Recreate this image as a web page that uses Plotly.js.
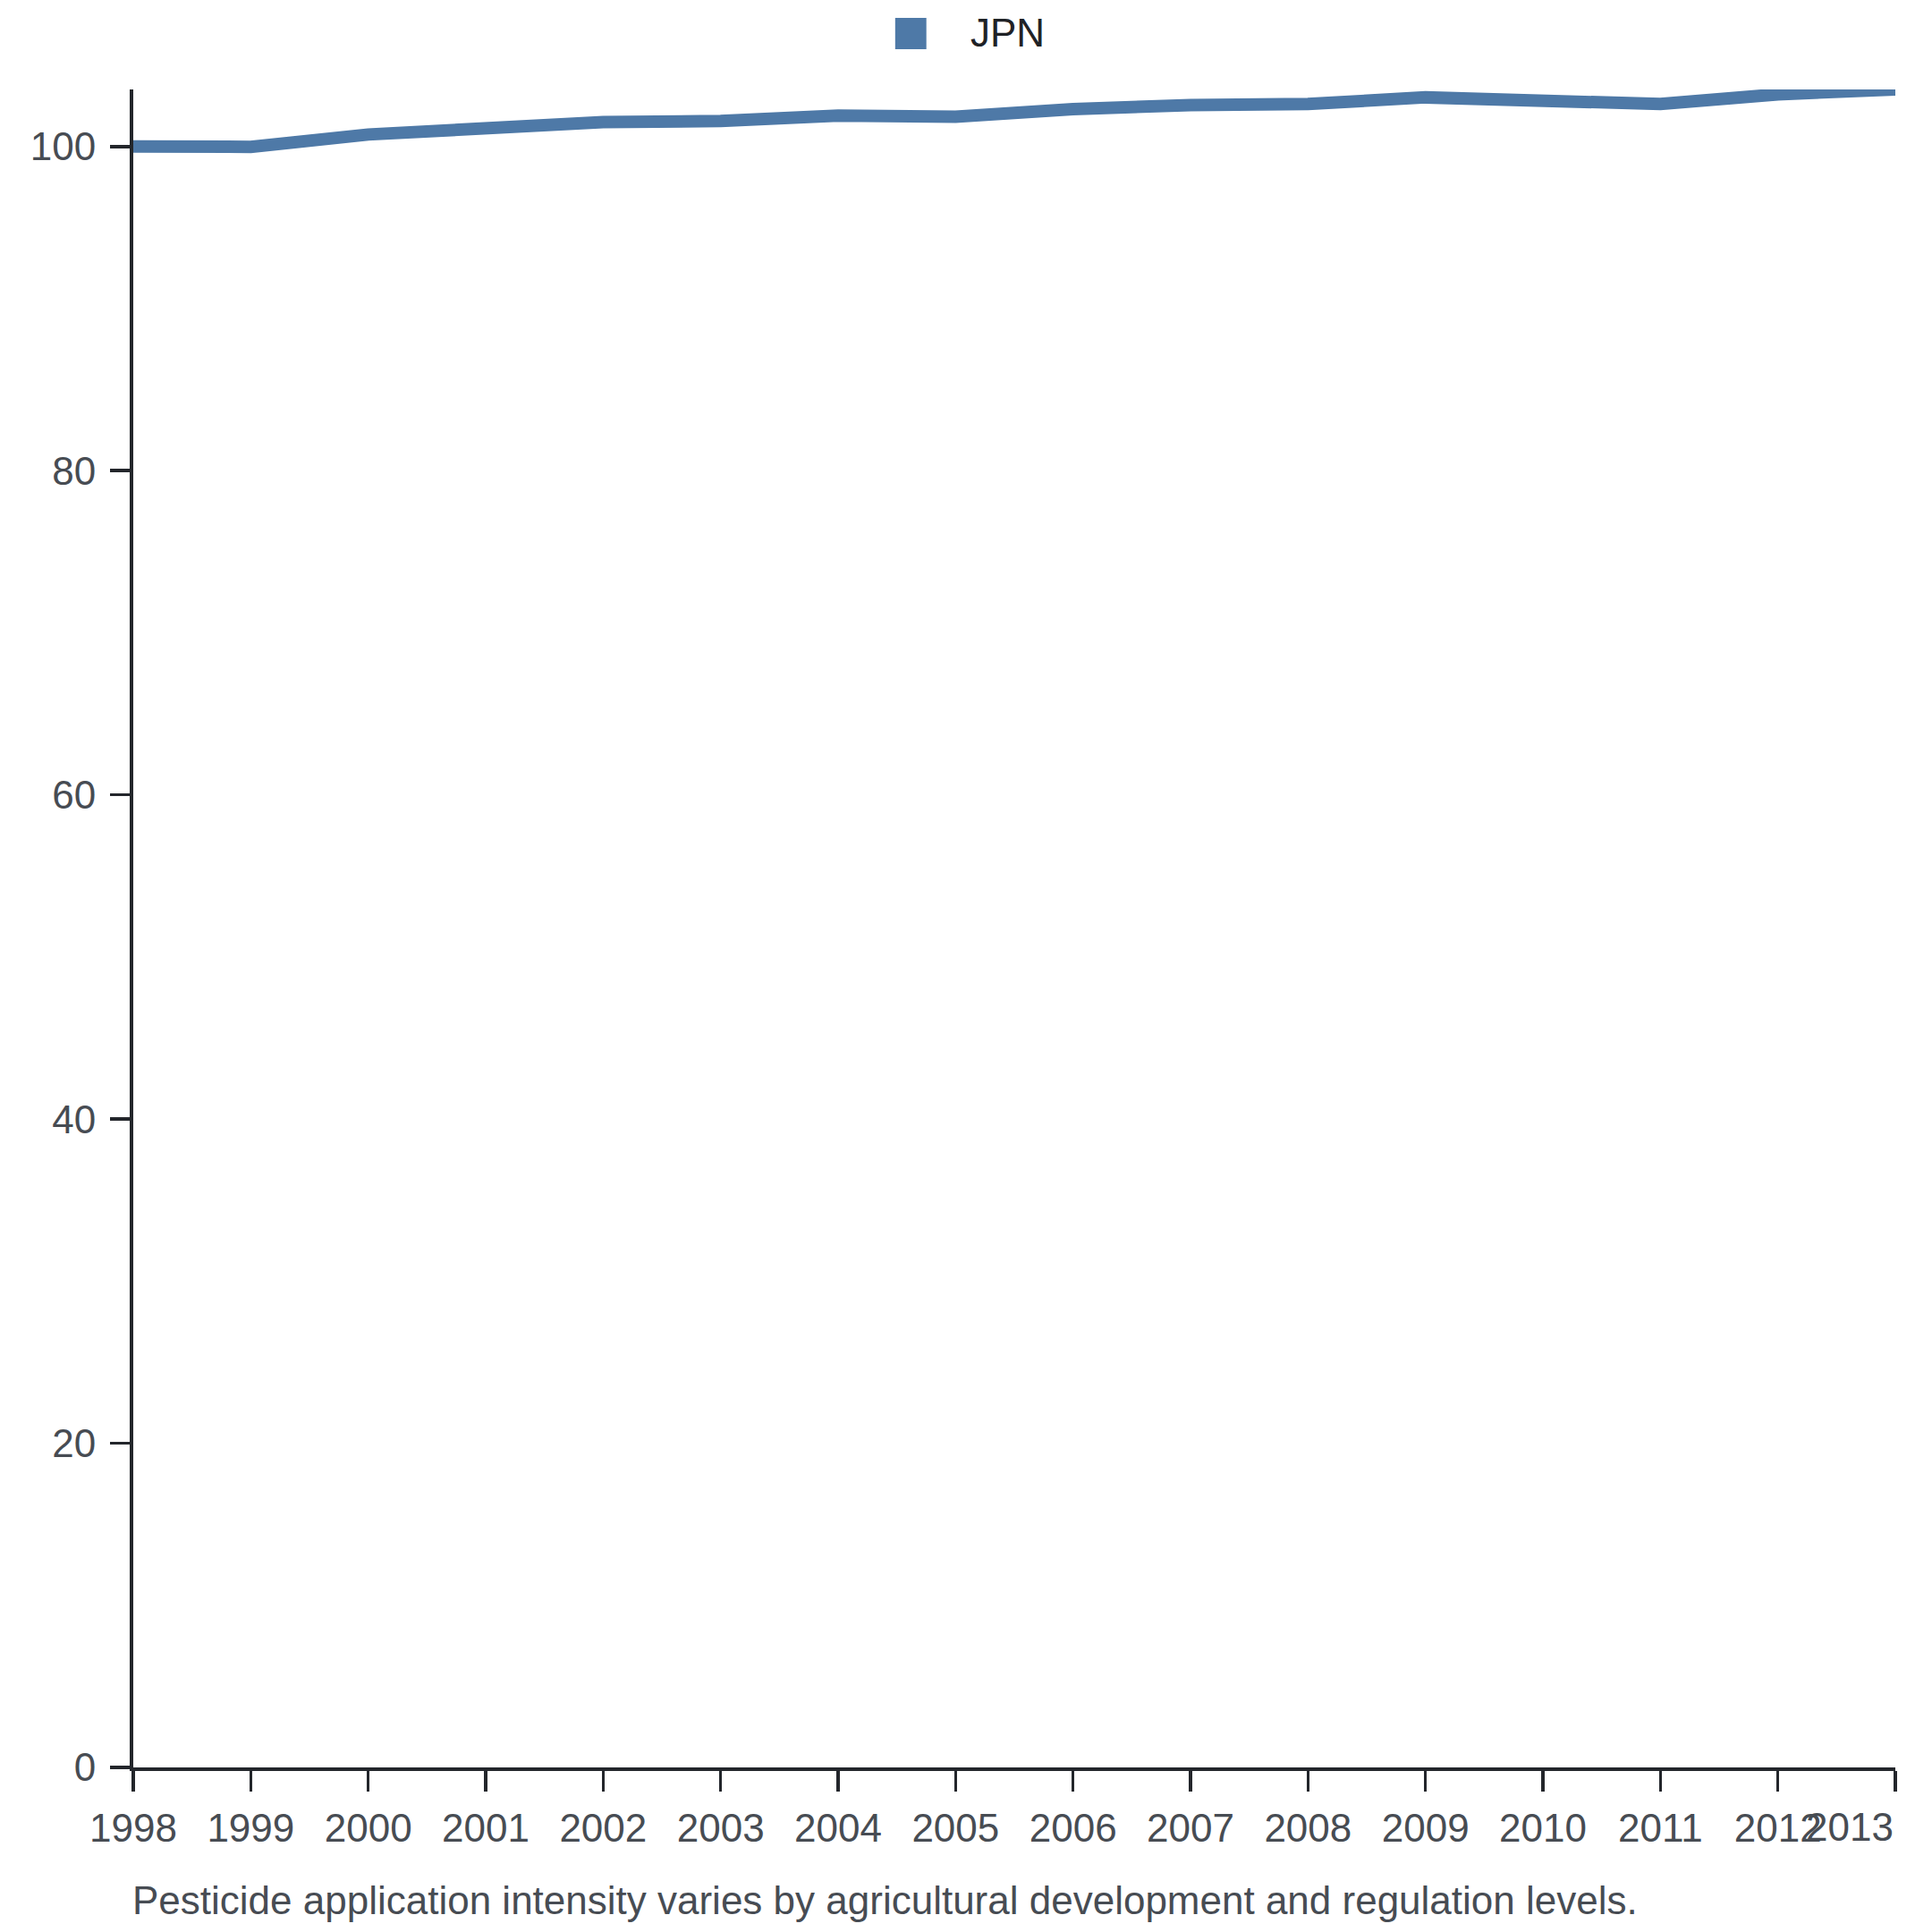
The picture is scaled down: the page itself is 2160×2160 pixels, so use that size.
<!DOCTYPE html>
<html>
<head>
<meta charset="utf-8">
<script src="https://cdn.plot.ly/plotly-3.0.1.min.js"></script>
<style>
  html, body { margin: 0; padding: 0; background: #ffffff; }
  #chart { width: 2160px; height: 2160px; }
</style>
</head>
<body>
<div id="chart"></div>
<script>
const years = [1998, 1999, 2000, 2001, 2002, 2003, 2004, 2005, 2006, 2007, 2008, 2009, 2010, 2011, 2012, 2013];
const jpnValues = [100.0, 99.98, 100.74, 101.13, 101.51, 101.57, 101.91, 101.84, 102.30, 102.56, 102.62, 103.03, 102.92, 102.62, 103.22, 103.52];
const seriesName = "JPN";
const yTickValues = [0, 20, 40, 60, 80, 100];
const caption = "Pesticide application intensity varies by agricultural development and regulation levels.";

const lineColor = "#4e79a7";
const axisColor = "#23262b";
const tickFontColor = "#474c53";
const fontFamily = "'Liberation Sans', Arial, sans-serif";
const fontSize = 44;

const yMax = Math.max(...jpnValues);
const lastYear = years[years.length - 1];

const trace = {
  x: years,
  y: jpnValues,
  type: "scatter",
  mode: "lines",
  name: seriesName,
  line: { color: lineColor, width: 14 },
  showlegend: false,
  hoverinfo: "x+y"
};

const layout = {
  width: 2160,
  height: 2160,
  paper_bgcolor: "#ffffff",
  plot_bgcolor: "#ffffff",
  margin: { l: 148.5, r: 40.5, t: 100, b: 184, pad: 0 },
  showlegend: false,
  font: { family: fontFamily, size: fontSize, color: tickFontColor },
  xaxis: {
    type: "linear",
    range: [years[0], lastYear],
    tickmode: "array",
    tickvals: years,
    // last label is drawn right-aligned below its tick as an annotation (as in the reference)
    ticktext: years.map((y, i) => (i === years.length - 1 ? "" : String(y))),
    showgrid: false,
    zeroline: false,
    showline: true,
    linecolor: axisColor,
    linewidth: 4,
    ticks: "outside",
    ticklen: 23,
    tickwidth: 3.5,
    tickcolor: axisColor,
    ticklabelstandoff: 3,
    ticklabeloverflow: "allow",
    tickfont: { family: fontFamily, size: fontSize, color: tickFontColor },
    fixedrange: true
  },
  yaxis: {
    range: [0, yMax],
    tickmode: "array",
    tickvals: yTickValues,
    ticktext: yTickValues.map(String),
    showgrid: false,
    zeroline: false,
    showline: true,
    linecolor: axisColor,
    linewidth: 4,
    ticks: "outside",
    ticklen: 22,
    tickwidth: 3.5,
    tickcolor: axisColor,
    ticklabelstandoff: 7,
    tickfont: { family: fontFamily, size: fontSize, color: tickFontColor },
    fixedrange: true
  },
  shapes: [
    {
      type: "rect",
      xref: "paper", yref: "paper",
      x0: 0.4324, x1: 0.4501,
      y0: 1.0240, y1: 1.0426,
      fillcolor: lineColor,
      line: { width: 0 }
    }
  ],
  annotations: [
    {
      text: seriesName,
      xref: "paper", yref: "paper",
      x: 0.4756, y: 1.0336, xshift: -3,
      xanchor: "left", yanchor: "middle",
      showarrow: false,
      font: { family: fontFamily, size: fontSize, color: "#1f2226" }
    },
    {
      text: String(lastYear),
      xref: "x", yref: "paper",
      x: lastYear, y: 0, yshift: -40,
      xanchor: "right", yanchor: "top",
      showarrow: false,
      font: { family: fontFamily, size: fontSize, color: tickFontColor }
    },
    {
      text: caption,
      xref: "paper", yref: "paper",
      x: 0, y: -0.0794, xshift: -3,
      xanchor: "left", yanchor: "middle",
      showarrow: false,
      font: { family: fontFamily, size: fontSize, color: tickFontColor }
    }
  ]
};

Plotly.newPlot("chart", [trace], layout, { displayModeBar: false, staticPlot: true });
</script>
</body>
</html>
